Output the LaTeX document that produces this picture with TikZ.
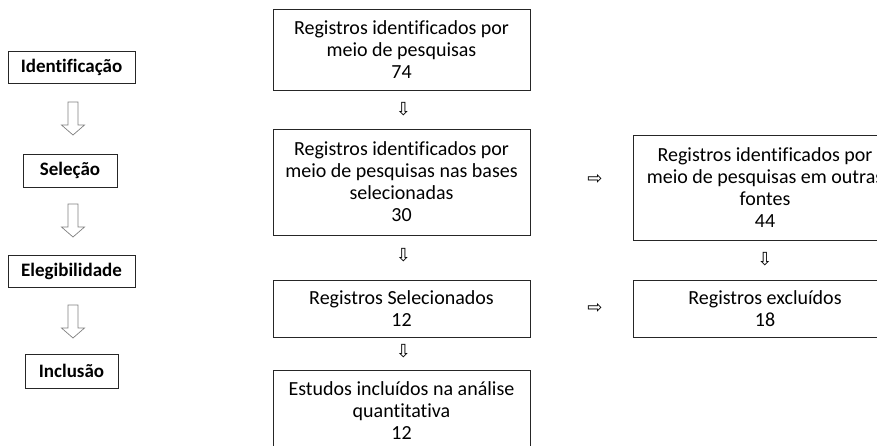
\documentclass[tikz,border=0pt]{standalone}
\usepackage{fontspec}
\setmainfont{Carlito}[Ligatures={NoCommon}]
\newfontfamily\symfont{DejaVu Sans}
\usetikzlibrary{calc}
\tikzset{
  box/.style={draw=black!85, line width=0.8pt, rectangle, inner sep=0pt, align=center,
    font=\fontsize{20}{22}\selectfont},
  stagebox/.style={draw=black!85, line width=0.8pt, rectangle, inner sep=0pt, align=center,
    font=\fontsize{19}{20}\selectfont\bfseries},
  smallarrow/.style={inner sep=0pt, font=\symfont\fontsize{18}{18}\selectfont},
  hollow/.style={draw=black!50, line width=0.7pt, fill=white, line join=miter},
  pics/bigdown/.style={code={
    \draw[hollow] (-5,0) -- (5,0) -- (5,23) -- (11.5,23) -- (0,33) -- (-11.5,23) -- (-5,23) -- cycle;
  }}
}
\begin{document}
\begin{tikzpicture}[x=1pt,y=-1pt]
\useasboundingbox (0,0) rectangle (877,445);
\clip (0,0) rectangle (877,445);
% left stages
\node[stagebox, minimum width=127pt, minimum height=32pt] (ident) at (71.5,67) {Identificação};
\node[stagebox, minimum width=94pt, minimum height=33pt] (sel) at (70,170.5) {Seleção};
\node[stagebox, minimum width=127pt, minimum height=32pt] (eleg) at (71.5,271) {Elegibilidade};
\node[stagebox, minimum width=93pt, minimum height=34pt] (incl) at (71.5,371) {Inclusão};
\pic at (73,102) {bigdown};
\pic at (73,204) {bigdown};
\pic at (73,305) {bigdown};
% centre column
\node[box, minimum width=257pt, minimum height=81pt] (b1) at (401.5,49.5)
  {Registros identificados por\\meio de pesquisas\\74};
\node[box, minimum width=257pt, minimum height=106pt] (b2) at (401.5,182)
  {Registros identificados por\\meio de pesquisas nas bases\\selecionadas\\30};
\node[box, minimum width=257pt, minimum height=57pt] (b3) at (401.5,308.5)
  {Registros Selecionados\\12};
\node[box, minimum width=257pt, minimum height=80pt, anchor=north] (b4) at (401.5,370)
  {Estudos incluídos na análise\\quantitativa\\12};
% right column
\node[box, minimum width=264pt, minimum height=105pt] (ra) at (765,187.5)
  {Registros identificados por\\meio de pesquisas em outras\\fontes\\44};
\node[box, minimum width=264pt, minimum height=57pt] (rb) at (765,308.5)
  {Registros excluídos\\18};
% small arrows
\node[smallarrow] (a1) at ($(b1.south)!0.5!(b2.north)+(2,0)$) {⇩};
\node[smallarrow] (a2) at ($(b2.south)!0.5!(b3.north)+(2,-2)$) {⇩};
\node[smallarrow] (a3) at ($(b3.south)!0.5!(b4.north)+(2,-3)$) {⇩};
\node[smallarrow] (a4) at ($(ra.south)!0.5!(rb.north)+(0,-1)$) {⇩};
\node[smallarrow] (a5) at (595,179) {⇨};
\node[smallarrow] (a6) at (595,308) {⇨};
\end{tikzpicture}
\end{document}
